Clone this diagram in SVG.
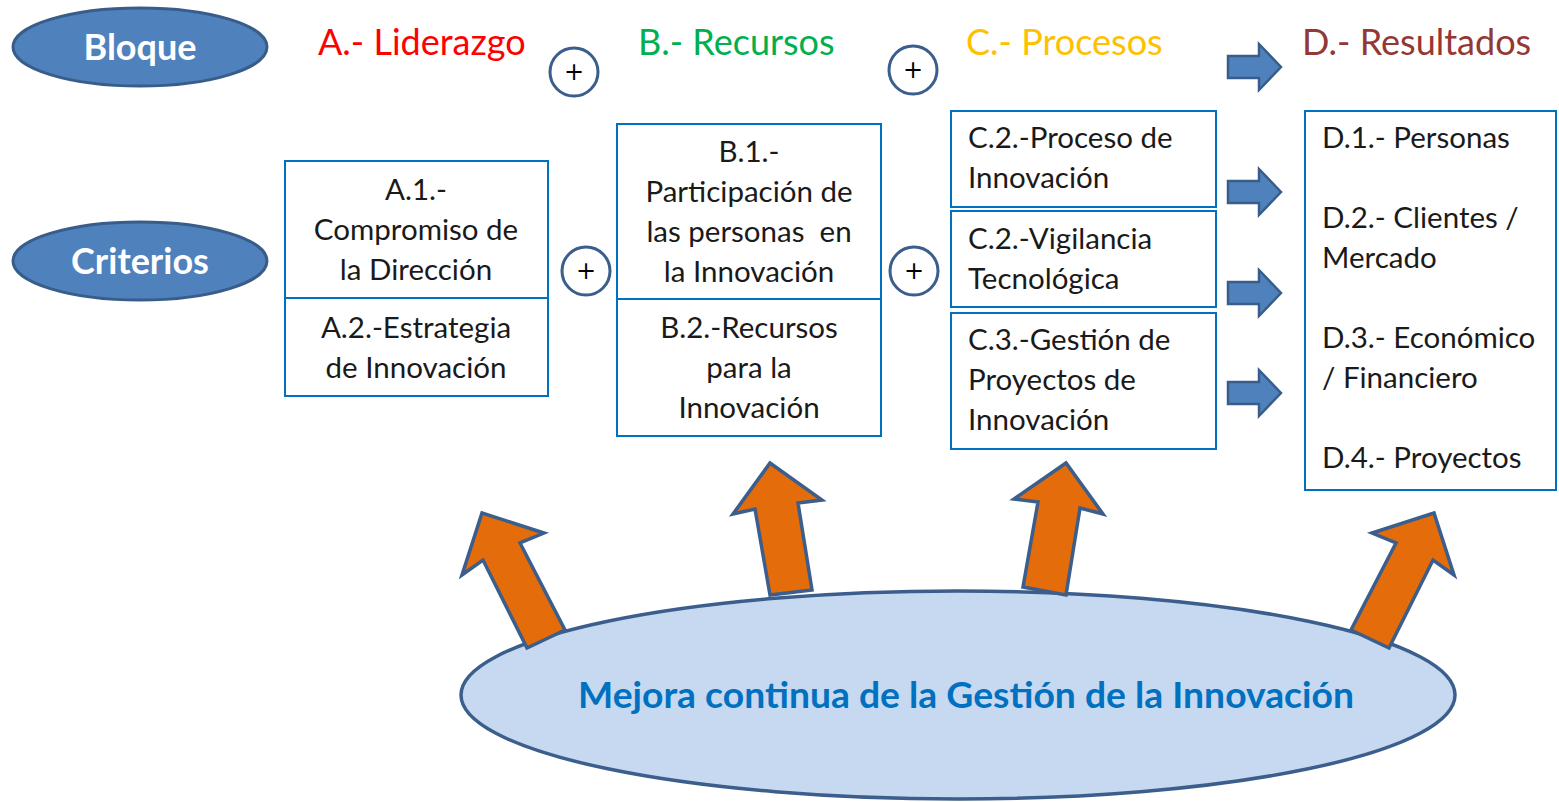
<svg xmlns="http://www.w3.org/2000/svg" width="1559" height="802" viewBox="0 0 1559 802">
<style>
.lbl{font-family:Lato,"Open Sans",sans-serif;font-weight:bold;fill:#fff;font-size:36px;text-anchor:middle}
.hdr{font-family:Lato,"Open Sans",sans-serif;font-size:36px}
.t{font-family:Lato,"Open Sans",sans-serif;font-size:29.5px;fill:#1a1a1a}
.c{text-anchor:middle}
.box{fill:#fff;stroke:#0070C0;stroke-width:2}
.plus{fill:#fff;stroke:#3B5E8C;stroke-width:3}
.ptxt{font-family:"DejaVu Sans",sans-serif;font-size:24px;text-anchor:middle;fill:#000}
.barr{fill:#4F81BD;stroke:#385D8A;stroke-width:2.5;stroke-linejoin:miter}
.oarr{fill:#E46C0A;stroke:#3B5E8C;stroke-width:3.5;stroke-linejoin:miter}
.oval{fill:#4F81BD;stroke:#385D8A;stroke-width:3}
</style>
<rect width="1559" height="802" fill="#fff"/>
<g id="bloque"><ellipse class="oval" cx="140" cy="47" rx="127" ry="39"/><text class="lbl" x="140" y="60">Bloque</text></g>
<g id="criterios"><ellipse class="oval" cx="140" cy="261" rx="127" ry="39"/><text class="lbl" x="140" y="274">Criterios</text></g>
<g id="headers">
<text class="hdr" x="318" y="55" fill="#FF0000">A.- Liderazgo</text>
<text class="hdr" x="638" y="55" fill="#00B050">B.- Recursos</text>
<text class="hdr" x="966" y="55" fill="#FFC000">C.- Procesos</text>
<text class="hdr" x="1302" y="55" fill="#953735">D.- Resultados</text>
</g>
<g id="plus1"><circle class="plus" cx="574" cy="72" r="24"/><text class="ptxt" x="574" y="80">+</text></g>
<g id="plus2"><circle class="plus" cx="913" cy="70" r="24"/><text class="ptxt" x="913" y="78">+</text></g>
<g id="plus3"><circle class="plus" cx="586" cy="271" r="24"/><text class="ptxt" x="586" y="279">+</text></g>
<g id="plus4"><circle class="plus" cx="914" cy="271" r="24"/><text class="ptxt" x="914" y="279">+</text></g>
<g id="boxA">
<rect class="box" x="285" y="161" width="263" height="137"/>
<rect class="box" x="285" y="298" width="263" height="98"/>
<text class="t c" x="416" y="200">A.1.-</text>
<text class="t c" x="416" y="240">Compromiso de</text>
<text class="t c" x="416" y="280">la Dirección</text>
<text class="t c" x="416" y="338">A.2.-Estrategia</text>
<text class="t c" x="416" y="378">de Innovación</text>
</g>
<g id="boxB">
<rect class="box" x="617" y="124" width="264" height="175"/>
<rect class="box" x="617" y="299" width="264" height="137"/>
<text class="t c" x="749" y="162">B.1.-</text>
<text class="t c" x="749" y="202">Participación de</text>
<text class="t c" x="749" y="242" xml:space="preserve">las personas  en</text>
<text class="t c" x="749" y="282">la Innovación</text>
<text class="t c" x="749" y="338">B.2.-Recursos</text>
<text class="t c" x="749" y="378">para la</text>
<text class="t c" x="749" y="418">Innovación</text>
</g>
<g id="boxC1"><rect class="box" x="951" y="111" width="265" height="96"/>
<text class="t" x="968" y="148">C.2.-Proceso de</text><text class="t" x="968" y="188">Innovación</text></g>
<g id="boxC2"><rect class="box" x="951" y="211" width="265" height="96"/>
<text class="t" x="968" y="249">C.2.-Vigilancia</text><text class="t" x="968" y="289">Tecnológica</text></g>
<g id="boxC3"><rect class="box" x="951" y="313" width="265" height="136"/>
<text class="t" x="968" y="350">C.3.-Gestión de</text><text class="t" x="968" y="390">Proyectos de</text><text class="t" x="968" y="430">Innovación</text></g>
<g id="boxD"><rect class="box" x="1305" y="111" width="251" height="379"/>
<text class="t" x="1322" y="148">D.1.- Personas</text>
<text class="t" x="1322" y="228">D.2.- Clientes /</text>
<text class="t" x="1322" y="268">Mercado</text>
<text class="t" x="1322" y="348">D.3.- Económico</text>
<text class="t" x="1322" y="388">/ Financiero</text>
<text class="t" x="1322" y="468">D.4.- Proyectos</text>
</g>
<g id="mejora">
<ellipse cx="958" cy="695" rx="497" ry="104" fill="#C6D9F1" stroke="#3B5E8C" stroke-width="3.5"/>
<text x="966" y="708" font-family="Lato,'Open Sans',sans-serif" font-weight="bold" font-size="36" fill="#0070C0" text-anchor="middle" textLength="776" lengthAdjust="spacingAndGlyphs">Mejora continua de la Gestión de la Innovación</text>
</g>
<g id="connectors">
<path class="barr" d="M1228,56 H1259 V44 L1281,67 L1259,90 V78 H1228 Z"/>
<path class="barr" d="M1228,181 H1259 V169 L1281,192 L1259,215 V203 H1228 Z"/>
<path class="barr" d="M1228,282 H1259 V270 L1281,293 L1259,316 V304 H1228 Z"/>
<path class="barr" d="M1228,382 H1259 V370 L1281,393 L1259,416 V404 H1228 Z"/>
<path class="oarr" d="M527,648 L483,560 L462,575 L482,513 L544,533 L520,543 L565,630 Z"/>
<path class="oarr" d="M770,595 L755,509 L733,514 L770,463 L822,500 L798,503 L812,590 Z"/>
<path class="oarr" d="M1023,587 L1038,502 L1014,499 L1066,463 L1103,514 L1080,508 L1066,595 Z"/>
<path class="oarr" d="M1389,648 L1433,560 L1454,575 L1434,513 L1372,533 L1396,543 L1351,630 Z"/>
</g>
</svg>
